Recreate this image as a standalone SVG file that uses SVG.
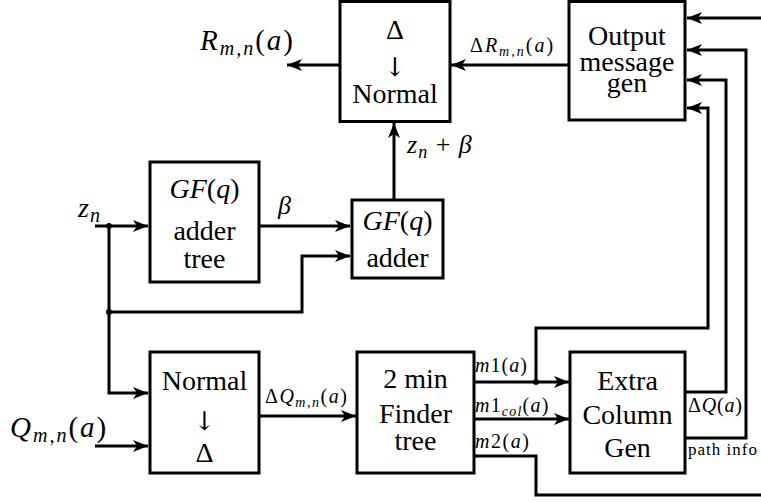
<svg xmlns="http://www.w3.org/2000/svg" width="761" height="502" viewBox="0 0 761 502">
<style>
  .box{fill:#fff;stroke:#000;stroke-width:3}
  .c{fill:none;stroke:#000;stroke-width:3}
  .t{font-family:'Liberation Serif',serif;font-size:28px;fill:#000;text-anchor:middle}
  .ar{font-family:'DejaVu Serif',serif;font-size:26px;fill:#000;text-anchor:middle}
  .l{font-family:'Liberation Serif',serif;fill:#000}
  .i{font-style:italic}
  .dot{fill:#000}
</style>
<defs>
  <marker id="ah" markerUnits="userSpaceOnUse" markerWidth="18" markerHeight="14" refX="16" refY="7" orient="auto">
    <path d="M1,1 L16,7 L1,13 L5,7 z" fill="#000"/>
  </marker>
</defs>

<g id="connectors">
  <path class="c" d="M340,65 H287" marker-end="url(#ah)"/>
  <path class="c" d="M569,65 H451" marker-end="url(#ah)"/>
  <path class="c" d="M394,200 V123" marker-end="url(#ah)"/>
  <path class="c" d="M95,226 H148" marker-end="url(#ah)"/>
  <path class="c" d="M259,226 H350" marker-end="url(#ah)"/>
  <path class="c" d="M109,226 V393 H148" marker-end="url(#ah)"/>
  <path class="c" d="M109,312 H302 V256 H350" marker-end="url(#ah)"/>
  <path class="c" d="M95,446 H148" marker-end="url(#ah)"/>
  <path class="c" d="M259,416 H356" marker-end="url(#ah)"/>
  <path class="c" d="M474,382 H569" marker-end="url(#ah)"/>
  <path class="c" d="M474,419 H569" marker-end="url(#ah)"/>
  <path class="c" d="M474,456 H536 V495 H763"/>
  <path class="c" d="M536,382 V328 H708 V108 H687" marker-end="url(#ah)"/>
  <path class="c" d="M685,392 H726 V80 H687" marker-end="url(#ah)"/>
  <path class="c" d="M685,438 H746 V50 H687" marker-end="url(#ah)"/>
  <path class="c" d="M763,18 H687" marker-end="url(#ah)"/>
  <circle class="dot" cx="109" cy="226" r="3"/>
  <circle class="dot" cx="109" cy="312" r="3"/>
  <circle class="dot" cx="536" cy="382" r="3"/>
</g>

<g id="delta-to-normal">
  <rect class="box" x="340" y="1.5" width="110" height="120"/>
  <text class="t" x="395" y="39">Δ</text>
  <text class="ar" x="395" y="76">↓︎</text>
  <text class="t" x="395" y="103">Normal</text>
</g>

<g id="output-message-gen">
  <rect class="box" x="569" y="1.5" width="116" height="118.5"/>
  <text class="t" x="627" y="45">Output</text>
  <text class="t" x="627" y="71">message</text>
  <text class="t" x="627" y="92">gen</text>
</g>

<g id="gf-adder-tree">
  <rect class="box" x="150" y="162" width="109" height="120"/>
  <text class="t" x="204.5" y="198"><tspan class="i">GF</tspan>(<tspan class="i">q</tspan>)</text>
  <text class="t" x="204.5" y="240">adder</text>
  <text class="t" x="204.5" y="268">tree</text>
</g>

<g id="gf-adder">
  <rect class="box" x="352" y="200" width="91" height="78"/>
  <text class="t" x="397.5" y="230"><tspan class="i">GF</tspan>(<tspan class="i">q</tspan>)</text>
  <text class="t" x="397.5" y="267">adder</text>
</g>

<g id="normal-to-delta">
  <rect class="box" x="150" y="352" width="109" height="121"/>
  <text class="t" x="204.5" y="390">Normal</text>
  <text class="ar" x="204.5" y="430">↓︎</text>
  <text class="t" x="204.5" y="462">Δ</text>
</g>

<g id="two-min-finder">
  <rect class="box" x="357" y="352" width="117" height="121"/>
  <text class="t" x="415.5" y="388">2 min</text>
  <text class="t" x="415.5" y="423">Finder</text>
  <text class="t" x="415.5" y="450">tree</text>
</g>

<g id="extra-column-gen">
  <rect class="box" x="570" y="352" width="115" height="121"/>
  <text class="t" x="627.5" y="390">Extra</text>
  <text class="t" x="627.5" y="424">Column</text>
  <text class="t" x="627.5" y="457">Gen</text>
</g>

<g id="labels">
  <text class="l" x="200" y="50" font-size="29" letter-spacing="2"><tspan class="i">R</tspan><tspan class="i" font-size="20" dy="5">m,n</tspan><tspan dy="-5">(</tspan><tspan class="i">a</tspan>)</text>
  <text class="l" x="470" y="52" font-size="20" letter-spacing="2"><tspan>Δ</tspan><tspan class="i">R</tspan><tspan class="i" font-size="14" dy="4">m,n</tspan><tspan dy="-4">(</tspan><tspan class="i">a</tspan>)</text>
  <text class="l" x="407" y="153" font-size="26" letter-spacing="1"><tspan class="i">z</tspan><tspan class="i" font-size="18" dy="5">n</tspan><tspan dy="-5"> + </tspan><tspan class="i">β</tspan></text>
  <text class="l" x="78" y="217" font-size="28" letter-spacing="1"><tspan class="i">z</tspan><tspan class="i" font-size="20" dy="5">n</tspan></text>
  <text class="l i" x="278" y="214" font-size="26">β</text>
  <text class="l" x="10" y="437" font-size="29" letter-spacing="2"><tspan class="i">Q</tspan><tspan class="i" font-size="20" dy="5">m,n</tspan><tspan dy="-5">(</tspan><tspan class="i">a</tspan>)</text>
  <text class="l" x="265" y="403" font-size="20" letter-spacing="1.5"><tspan>Δ</tspan><tspan class="i">Q</tspan><tspan class="i" font-size="14" dy="4">m,n</tspan><tspan dy="-4">(</tspan><tspan class="i">a</tspan>)</text>
  <text class="l" x="475" y="372" font-size="20" letter-spacing="1"><tspan class="i">m</tspan>1(<tspan class="i">a</tspan>)</text>
  <text class="l" x="475" y="412" font-size="20" letter-spacing="1.2"><tspan class="i">m</tspan>1<tspan class="i" font-size="14" dy="4">col</tspan><tspan dy="-4">(</tspan><tspan class="i">a</tspan>)</text>
  <text class="l" x="475" y="448" font-size="20" letter-spacing="1.5"><tspan class="i">m</tspan>2(<tspan class="i">a</tspan>)</text>
  <text class="l" x="688" y="412" font-size="20" letter-spacing="0.8"><tspan>Δ</tspan><tspan class="i">Q</tspan>(<tspan class="i">a</tspan>)</text>
  <text class="l" x="688" y="455" font-size="17" letter-spacing="1">path info</text>
</g>
</svg>
